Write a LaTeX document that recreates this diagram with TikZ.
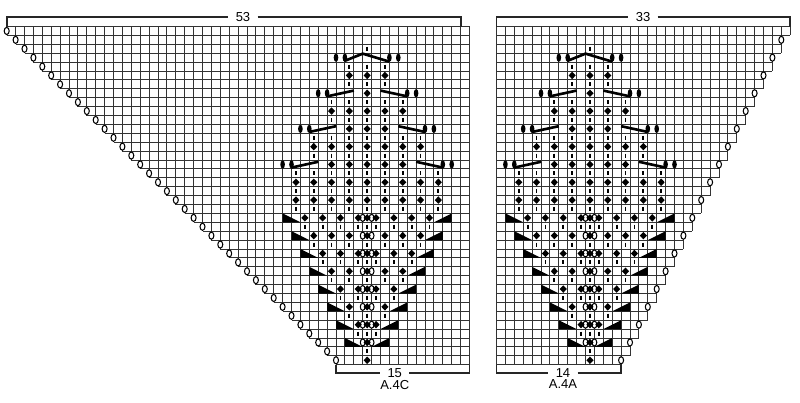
\documentclass[tikz,border=0pt]{standalone}
\usepackage{fontspec}
\setmainfont{Liberation Sans}
\usepackage{tikz}

% one chart symbol, at column #1 and row #2
\newcommand{\tickmark}[2]{\draw[tickline] (#1+.5,#2+.27) -- (#1+.5,#2+.73);}
\newcommand{\blackdia}[2]{\fill (#1+.1,#2+.5) -- (#1+.5,#2+.08) -- (#1+.9,#2+.5) -- (#1+.5,#2+.92) -- cycle;}

% the leaf, centred on column 40
\newcommand{\leafmotif}{
	% yarn overs in the middle
	\foreach \k in {0,...,7}
		\foreach \c in {40,41}
			\draw[yarnover] (\c,{21.5+2*\k}) ellipse (.27 and .4);

	% decreases
	\foreach \k in {0,...,7} {
		\fill ({31+\k},{21+2*\k}) -- ++(0,1) -- ++(2,0) -- cycle;
		\fill ({50-\k},{21+2*\k}) -- ++(0,1) -- ++(-2,0) -- cycle;
	}

	\foreach \r/\cols in {2/{40},4/{38,40,42},6/{38,40,42},8/{36,38,40,42,44},10/{36,38,40,42,44},
		12/{34,36,38,40,42,44,46},14/{34,36,38,40,42,44,46},16/{32,34,36,38,40,42,44,46,48},
		18/{32,34,36,38,40,42,44,46,48},20/{32,34,36,38,40,42,44,46,48},22/{33,35,37,39,40,41,43,45,47},
		24/{34,36,38,40,42,44,46},26/{35,37,39,40,41,43,45},28/{36,38,40,42,44},30/{37,39,40,41,43},
		32/{38,40,42},34/{39,40,41},36/{40}}
		\foreach \c in \cols
			\tickmark{\c}{\r};

	\foreach \r/\cols in {5/{38,40,42},7/{40},9/{36,38,40,42,44},11/{38,40,42},13/{34,36,38,40,42,44,46},
		15/{36,38,40,42,44},17/{32,34,36,38,40,42,44,46,48},19/{32,34,36,38,40,42,44,46,48},
		21/{33,35,37,39,40,41,43,45,47},23/{34,36,38,40,42,44,46},25/{35,37,39,40,41,43,45},
		27/{36,38,40,42,44},29/{37,39,40,41,43},31/{38,40,42},33/{39,40,41},35/{40},37/{40}}
		\foreach \c in \cols
			\blackdia{\c}{\r};

	% the veins
	\draw[vein] (38,3.85) -- (40,3.05) -- (43,3.95);
	\foreach \s in {37,38,43,44}
		\fill (\s,3.5) ellipse (.26 and .47);
	\foreach \r/\c in {7/36,11/34,15/32} {
		\draw[vein] (\c,\r+.85) -- (\c+3,\r+.2);
		\draw[vein] (78-\c,\r+.2) -- (81-\c,\r+.85);
		\fill (\c-1,\r+.5) ellipse (.26 and .47);
		\fill (\c,\r+.5) ellipse (.26 and .47);
		\fill (81-\c,\r+.5) ellipse (.26 and .47);
		\fill (82-\c,\r+.5) ellipse (.26 and .47);
	}
}

\begin{document}
\begin{tikzpicture}[x=.178cm, y=-.178cm,
	gridline/.style={black!80, line width=.52pt},
	bracket/.style={black!85, line width=1.1pt},
	tickline/.style={line width=1pt},
	vein/.style={line width=1.5pt},
	yarnover/.style={draw=black, line width=.6pt, fill=white},
	numlabel/.style={font=\fontsize{7.4}{8}\selectfont, inner sep=0pt, inner xsep=4pt}]

	\useasboundingbox (0,0) rectangle (89.888,45.169);

	% left chart
	\begin{scope}[shift={(.753,2.978)}]
		\foreach \c in {0,...,52}
			\draw[gridline] (\c,0) -- (\c,{min(\c+1,38)});
		\foreach \r in {0,...,38}
			\draw[gridline] ({max(\r-1,0)},\r) -- (52,\r);

		% the slanted edge
		\foreach \r in {0,...,37}
			\draw[yarnover] (\r,\r+.5) ellipse (.28 and .4);

		\leafmotif

		\node[numlabel] (topleft) at (26.55,-1.03) {53};
		\draw[bracket] (0,0) |- (topleft.west);
		\draw[bracket] (topleft.east) -| (51,0);
		\node[numlabel] (botleft) at (43.6,38.97) {15};
		\draw[bracket] (37,38) |- (botleft.west);
		\draw[bracket] (botleft.east) -| (52,38);
		\node[numlabel] (nameleft) at (43.6,40.3) {A.4C};
	\end{scope}

	% right chart
	\begin{scope}[shift={(55.787,2.978)}]
		\draw[gridline] (0,0) -- (33,0);
		\draw[gridline] (0,1) -- (33,1);
		\foreach \c in {0,...,33}
			\draw[gridline] (\c,0) -- (\c,{min(67-2*\c,38)});
		\foreach \r in {2,...,38}
			\draw[gridline] (0,\r) -- ({32-int((\r-2)/2)},\r);

		% the stepped edge
		\foreach \k in {0,...,18}
			\draw[yarnover] (32-\k,{1.5+2*\k}) ellipse (.28 and .4);

		\begin{scope}[shift={(-30,0)}]
			\leafmotif
		\end{scope}

		\node[numlabel] (topright) at (16.46,-1.03) {33};
		\draw[bracket] (0,0) |- (topright.west);
		\draw[bracket] (topright.east) -| (33,0);
		\node[numlabel] (botright) at (7.47,38.9) {14};
		\draw[bracket] (0,38) |- (botright.west);
		\draw[bracket] (botright.east) -| (14,38);
		\node[numlabel] (nameright) at (7.47,40.2) {A.4A};
	\end{scope}

\end{tikzpicture}
\end{document}
